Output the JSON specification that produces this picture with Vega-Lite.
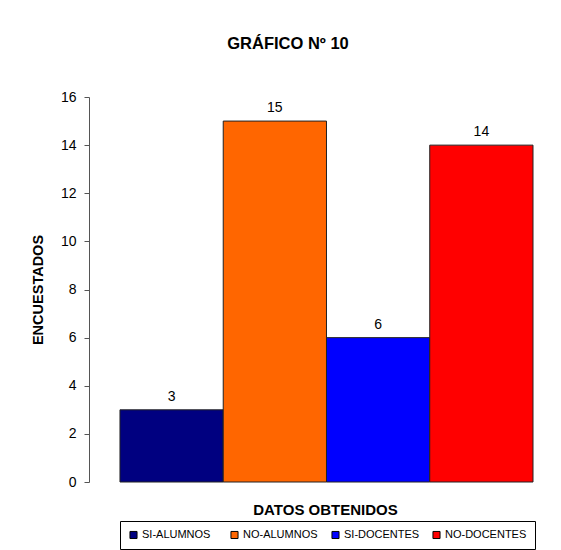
{
  "$schema": "https://vega.github.io/schema/vega-lite/v6.json",
  "autosize": "none",
  "width": 444,
  "height": 385,
  "padding": {"left": 89, "top": 97, "right": 28, "bottom": 68},
  "background": "white",
  "config": {
    "font": "Liberation Sans",
    "view": {"stroke": null},
    "axis": {"labelFont": "Liberation Sans", "titleFont": "Liberation Sans"}
  },
  "title": {
    "text": "GRÁFICO Nº 10",
    "font": "Liberation Sans",
    "fontSize": 16.5,
    "fontWeight": "bold",
    "color": "black",
    "anchor": "middle",
    "dx": -23,
    "offset": 38
  },
  "data": {
    "values": [
      {"categoria": "SI-ALUMNOS", "encuestados": 3},
      {"categoria": "NO-ALUMNOS", "encuestados": 15},
      {"categoria": "SI-DOCENTES", "encuestados": 6},
      {"categoria": "NO-DOCENTES", "encuestados": 14}
    ]
  },
  "encoding": {
    "x": {
      "field": "categoria",
      "type": "nominal",
      "sort": ["SI-ALUMNOS", "NO-ALUMNOS", "SI-DOCENTES", "NO-DOCENTES"],
      "scale": {"paddingInner": 0, "paddingOuter": 0.15, "align": 1},
      "axis": {
        "title": "DATOS OBTENIDOS",
        "labels": false,
        "ticks": false,
        "domain": false,
        "titleFontSize": 15,
        "titleFontWeight": "bold",
        "titleColor": "black",
        "titlePadding": 20,
        "titleX": 236
      }
    },
    "y": {
      "field": "encuestados",
      "type": "quantitative",
      "scale": {"domain": [0, 16], "nice": false},
      "axis": {
        "title": "ENCUESTADOS",
        "values": [0, 2, 4, 6, 8, 10, 12, 14, 16],
        "grid": false,
        "tickSize": 5,
        "tickColor": "#555555",
        "domainColor": "#555555",
        "labelFontSize": 14,
        "labelColor": "black",
        "labelPadding": 8,
        "titleFontSize": 14.5,
        "titleFontWeight": "bold",
        "titleColor": "black",
        "titlePadding": 15
      }
    }
  },
  "layer": [
    {
      "mark": {"type": "bar", "stroke": "#222222", "strokeWidth": 1},
      "encoding": {
        "color": {
          "field": "categoria",
          "type": "nominal",
          "sort": ["SI-ALUMNOS", "NO-ALUMNOS", "SI-DOCENTES", "NO-DOCENTES"],
          "scale": {
            "domain": ["SI-ALUMNOS", "NO-ALUMNOS", "SI-DOCENTES", "NO-DOCENTES"],
            "range": ["#000080", "#FF6600", "#0000FF", "#FF0000"]
          },
          "legend": {
            "title": null,
            "orient": "none",
            "legendX": 31,
            "legendY": 424,
            "direction": "horizontal",
            "columns": 4,
            "gridAlign": "all",
            "columnPadding": 4,
            "strokeColor": "black",
            "padding": 8,
            "symbolType": "square",
            "symbolSize": 50,
            "symbolStrokeColor": "black",
            "symbolStrokeWidth": 1,
            "symbolOpacity": 1,
            "labelFontSize": 11,
            "labelColor": "black",
            "labelOffset": 3
          }
        }
      }
    },
    {
      "mark": {"type": "text", "fontSize": 14, "color": "black", "baseline": "alphabetic", "dy": -9},
      "encoding": {"text": {"field": "encuestados", "type": "quantitative"}}
    }
  ]
}
